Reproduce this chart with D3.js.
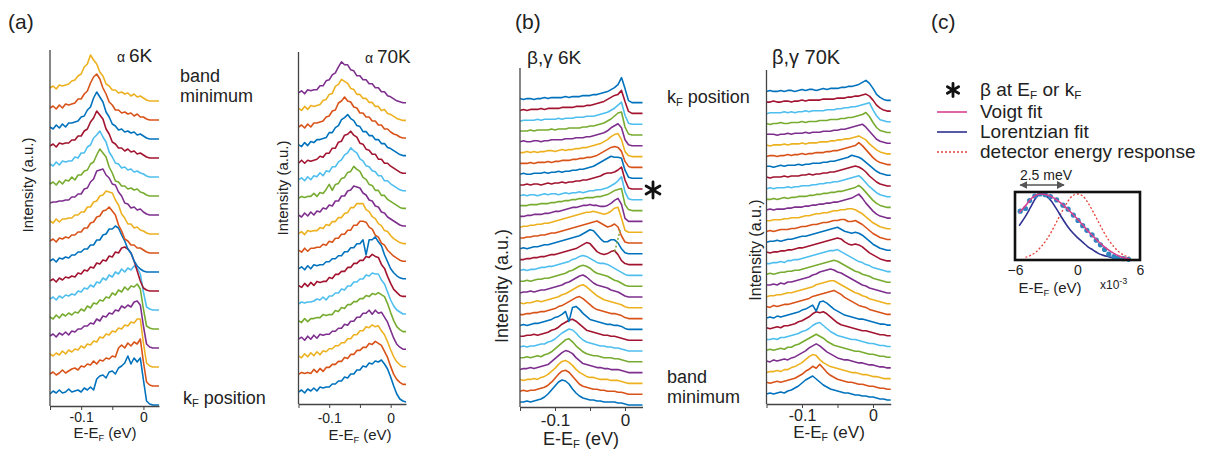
<!DOCTYPE html>
<html>
<head>
<meta charset="utf-8">
<script src="https://cdn.jsdelivr.net/npm/d3@7"></script>
<style>
  body { margin: 0; background: #fff; }
  svg { display: block; }
  text { font-family: "Liberation Sans", Arial, sans-serif; fill: #222; }
</style>
</head>
<body>
<svg id="fig" width="1206" height="453"></svg>
<script>
// energy grid (eV), shared by all EDC stacks
var energy = [-0.15,-0.145,-0.14,-0.135,-0.13,-0.125,-0.12,-0.115,-0.11,-0.105,-0.1,-0.095,-0.09,-0.085,-0.08,-0.075,-0.07,-0.065,-0.06,-0.055,-0.05,-0.045,-0.04,-0.035,-0.03,-0.025,-0.02,-0.015,-0.01,-0.005,0,0.005,0.01,0.015,0.02,0.025];

// MATLAB colour order, bottom curve first
var colors = ["#0072BD","#D95319","#EDB120","#7E2F8E","#77AC30","#4DBEEE","#A2142F"];

// (a) alpha band, 6K  -- bottom (kF) to top (band minimum)
var alpha6K = [
  [11,14,12,15,12,13,16,13,14,15,13,17,15,18,15,26,29,30,27,33,34,31,37,39,42,49,41,47,43,47,25,4,1,0,0,0],
  [12,14,11,13,16,13,15,17,18,16,20,19,22,21,25,22,26,25,28,27,30,29,38,41,38,43,40,44,42,47,24,4,1,0,0,0],
  [13,11,14,12,16,13,17,15,18,17,21,19,23,22,26,25,30,29,33,32,36,35,39,38,42,41,45,44,48,48,24,4,1,0,0,0],
  [12,14,11,15,13,16,13,17,16,19,19,22,22,25,24,29,27,32,31,35,34,38,37,42,40,43,41,46,47,43,22,4,1,0,0,0],
  [12,10,14,11,15,13,16,14,17,16,20,18,23,21,26,25,29,28,32,31,36,34,39,37,42,39,43,42,45,40,20,3,1,0,0,0],
  [11,13,10,14,12,15,14,16,15,19,18,22,21,25,23,28,27,32,30,35,33,38,36,41,38,42,40,44,42,36,18,3,1,0,0,0],
  [10,12,9,13,11,14,13,15,14,18,17,21,20,24,23,28,27,31,30,35,34,39,38,43,44,42,38,30,20,10,3,1,0,0,0,0],
  [11,13,10,14,13,15,14,17,17,20,20,23,23,27,27,32,32,37,38,43,43,46,44,37,31,23,19,11,6,3,1,0,0,0,0,0],
  [12,14,11,15,14,16,15,18,18,21,21,25,25,30,31,36,37,42,43,46,42,38,28,22,14,12,8,8,5,5,3,1,0,0,0,0],
  [13,11,15,12,15,15,16,16,19,19,22,22,27,27,32,33,38,39,43,42,41,34,29,20,16,10,10,6,7,4,3,1,0,0,0,0],
  [12,13,13,14,14,15,15,18,18,21,21,26,27,33,36,44,45,46,40,37,31,30,23,19,12,11,7,8,5,6,3,1,0,0,0,0],
  [12,14,11,15,12,16,15,19,16,21,21,25,26,32,34,41,47,43,39,29,23,15,14,10,10,7,8,6,7,4,3,1,0,0,0,0],
  [13,11,15,12,16,15,16,16,20,19,24,24,30,32,39,42,46,40,35,25,20,14,13,9,10,7,8,5,6,4,3,1,0,0,0,0],
  [12,14,11,15,14,15,15,18,18,22,22,27,29,36,40,47,43,39,29,24,16,14,10,10,7,9,6,7,4,5,3,1,0,0,0,0],
  [12,10,14,11,15,12,16,16,17,18,22,23,29,32,41,47,42,37,27,22,15,13,9,10,7,8,6,7,4,5,3,1,0,0,0,0],
  [12,14,11,15,12,16,15,16,17,21,21,26,29,37,43,46,41,32,26,18,15,10,10,7,8,6,7,4,6,3,3,1,0,0,0,0],
  [13,15,12,16,15,16,17,20,21,25,27,34,37,46,41,37,29,25,17,15,11,11,8,9,7,8,5,7,4,5,3,1,0,0,0,0]
];

// (a) alpha band, 70K
var alpha70K = [
  [10,12,9,13,11,14,11,15,14,15,15,18,18,21,21,25,24,28,28,32,32,36,35,39,38,41,40,42,38,33,25,16,8,3,1,0],
  [10,12,11,12,11,15,12,16,13,17,17,20,20,23,23,27,26,30,30,34,34,37,37,41,40,43,41,39,33,27,18,10,5,2,0,0],
  [11,9,13,10,14,11,15,12,16,15,18,18,21,21,24,24,28,28,32,32,36,36,40,39,42,40,41,36,32,25,17,10,5,2,0,0],
  [10,12,9,13,10,14,11,15,14,15,15,18,18,21,21,25,24,28,28,32,32,36,36,39,35,39,36,37,32,27,19,11,5,2,0,0],
  [11,9,13,10,13,13,14,14,17,16,17,17,21,20,24,23,27,27,30,30,33,33,36,35,38,37,39,37,35,28,19,11,5,2,0,0],
  [10,12,11,12,12,13,15,14,17,14,18,18,21,21,25,24,28,28,32,32,35,35,39,38,41,40,40,34,30,22,14,8,4,2,0,0],
  [11,9,13,10,14,11,15,14,15,15,19,18,22,22,25,25,29,29,33,33,36,36,40,39,42,40,39,32,28,20,13,7,4,1,0,0],
  [10,12,9,13,10,14,13,14,14,17,17,20,20,23,23,27,27,31,31,35,35,39,24,39,39,42,37,33,24,17,10,6,3,1,0,0],
  [11,9,13,10,13,13,14,14,17,16,20,19,23,23,27,27,31,31,36,36,40,40,39,34,32,26,24,18,16,11,8,5,3,1,0,0],
  [10,12,9,13,12,13,13,16,15,19,18,22,22,26,26,30,31,36,36,40,40,40,34,32,27,25,20,18,13,12,8,5,3,1,0,0],
  [11,9,13,10,14,11,15,14,18,17,21,20,25,25,30,30,35,36,40,39,38,33,31,26,25,20,19,14,13,9,7,5,3,1,0,0],
  [10,12,11,12,12,15,12,16,15,19,24,18,24,25,30,31,36,37,42,39,37,31,29,24,23,18,18,13,13,9,7,5,3,1,0,0],
  [11,13,10,14,11,15,14,18,15,20,19,24,24,29,31,36,38,43,40,38,32,30,25,24,20,19,15,15,10,10,7,5,3,1,0,0],
  [10,13,10,13,12,13,14,17,16,20,20,25,25,31,32,38,39,42,38,36,30,29,24,23,19,19,14,14,10,10,7,5,3,1,0,0],
  [11,9,13,10,14,13,16,16,17,18,23,23,28,30,36,38,41,37,35,30,29,24,24,20,20,16,16,12,12,8,7,5,3,1,0,0],
  [11,13,10,14,11,15,15,16,17,21,22,27,28,35,37,41,37,36,31,30,25,25,21,21,17,17,13,13,9,9,6,4,3,1,0,0],
  [12,10,14,11,15,14,15,16,20,21,26,27,34,36,41,39,37,32,31,26,26,22,22,18,18,14,14,10,11,7,6,4,2,1,0,0],
  [10,12,9,13,12,13,13,17,17,22,23,28,30,36,41,38,38,33,32,27,27,23,23,19,19,15,15,11,11,7,6,4,2,1,0,0]
];

// (b) beta,gamma bands, 6K -- bottom (band minimum) to top (kF)
var betaGamma6K = [
  [3,3,4,3,4,5,6,8,11,15,19,23,25,24,21,16,12,9,7,6,5,5,4,4,3,3,3,3,2,2,1,0,0,0,0,0],
  [3,4,3,4,4,5,6,7,9,12,16,20,23,24,22,18,14,10,8,7,6,5,5,4,4,3,3,3,2,2,1,0,0,0,0,0],
  [4,3,4,4,5,4,6,7,9,12,15,19,22,23,21,18,14,11,9,7,6,6,5,4,4,4,3,3,3,2,1,0,0,0,0,0],
  [3,4,4,5,4,5,6,7,8,11,14,17,20,22,21,19,15,12,9,8,7,6,5,5,4,4,3,3,3,2,1,0,0,0,0,0],
  [4,4,5,4,5,6,5,7,8,10,13,16,19,22,23,20,16,13,10,8,7,6,6,5,4,4,4,3,3,2,1,0,0,0,0,0],
  [4,5,4,5,5,6,7,7,9,10,12,15,18,20,22,21,18,14,11,9,8,7,6,5,5,4,4,3,3,2,1,0,0,0,0,0],
  [4,4,5,5,6,5,6,7,8,10,11,13,16,18,20,21,19,16,13,10,9,8,7,6,5,5,4,4,3,2,1,0,0,0,0,0],
  [4,5,4,5,6,6,7,8,9,10,12,13,15,18,8,22,23,20,16,13,10,9,8,7,6,5,5,4,4,3,1,0,0,0,0,0],
  [4,4,5,5,6,6,7,7,8,9,10,12,13,15,17,19,21,22,20,17,14,11,9,8,7,6,5,5,4,3,1,0,0,0,0,0],
  [5,4,5,5,6,7,6,7,8,9,10,11,13,14,16,18,20,22,23,21,18,15,12,10,8,7,6,5,4,3,1,0,0,0,0,0],
  [4,5,5,6,5,6,7,7,8,9,10,11,12,14,15,17,19,21,22,20,17,14,12,11,10,9,7,6,5,3,1,0,0,0,0,0],
  [5,5,6,5,6,7,7,8,8,9,10,11,12,13,15,16,18,20,21,20,18,15,13,12,11,10,8,6,5,3,1,0,0,0,0,0],
  [5,6,5,6,6,7,8,8,9,9,10,11,12,13,14,16,17,19,20,19,17,15,13,12,12,11,9,7,5,3,1,0,0,0,0,0],
  [5,5,6,6,7,7,8,8,9,10,10,11,12,13,14,15,16,18,20,22,21,17,13,11,10,11,13,14,10,4,1,0,0,0,0,0],
  [5,6,5,6,7,7,8,9,9,10,11,12,13,14,15,16,17,18,20,22,24,23,19,15,12,12,14,14,11,5,1,0,0,0,0,0],
  [5,5,6,6,7,7,8,8,9,10,10,11,12,13,14,15,16,17,18,19,20,21,22,20,18,16,17,19,16,7,1,0,0,0,0,0],
  [5,6,6,7,7,8,8,9,9,10,11,12,13,14,15,16,17,18,19,20,20,21,20,19,18,19,21,24,25,14,2,0,0,0,0,0],
  [5,5,6,6,7,7,7,8,8,9,10,10,11,12,13,14,14,15,16,16,17,16,16,15,15,16,18,21,23,17,3,0,0,0,0,0],
  [5,5,5,6,6,6,7,7,7,8,8,9,9,10,10,11,11,12,12,13,13,13,14,14,15,16,18,20,21,22,6,1,0,0,0,0],
  [4,5,4,5,5,4,5,6,5,6,6,5,6,7,6,7,7,8,7,8,9,9,10,10,11,12,14,16,19,23,8,1,0,0,0,0],
  [4,4,5,4,5,5,4,5,6,5,6,6,7,6,7,7,8,8,9,9,10,11,12,13,15,16,16,17,19,22,9,1,0,0,0,0],
  [4,5,4,4,5,5,5,6,5,6,6,7,6,7,7,8,8,9,9,10,11,12,14,16,18,20,22,21,21,20,8,1,0,0,0,0],
  [4,4,4,5,4,5,5,5,6,5,6,6,7,7,7,8,8,9,9,10,10,11,12,14,16,18,20,21,20,16,6,1,0,0,0,0],
  [4,4,5,4,5,4,5,5,6,6,5,6,7,6,7,7,8,8,9,9,10,11,12,13,15,17,20,22,23,17,5,1,0,0,0,0],
  [4,5,4,4,5,5,4,5,5,6,6,6,6,7,7,7,8,8,8,9,9,10,11,12,13,15,18,20,22,18,6,1,0,0,0,0],
  [4,4,4,5,4,5,5,5,5,6,5,6,6,6,7,7,7,7,8,8,9,9,10,11,12,14,16,19,22,23,8,1,0,0,0,0],
  [3,4,4,4,4,5,4,5,5,5,5,6,5,6,6,6,7,7,7,8,8,8,9,10,11,12,14,16,19,22,9,1,0,0,0,0],
  [3,4,3,4,4,4,5,4,5,5,5,5,6,6,6,6,7,7,7,8,8,9,10,11,12,14,16,18,19,23,12,2,0,0,0,0],
  [4,3,4,4,3,4,4,5,4,5,5,5,5,6,5,6,6,6,7,7,7,8,8,9,10,11,13,15,18,25,14,2,0,0,0,0]
];

// (b) beta,gamma bands, 70K
var betaGamma70K = [
  [7,8,7,8,9,8,10,11,13,15,18,21,23,25,22,19,16,14,12,11,10,9,8,8,7,6,6,5,5,4,4,3,2,2,1,1],
  [8,7,8,9,8,9,10,11,12,14,16,19,21,24,22,26,22,18,15,13,11,10,9,8,8,7,6,6,5,4,4,3,2,2,1,1],
  [7,8,8,9,8,10,10,12,13,15,17,20,23,25,24,20,17,15,13,12,11,10,9,8,7,7,6,5,5,4,3,3,2,1,1,1],
  [8,7,9,8,9,10,9,11,12,14,16,18,21,23,25,23,20,17,15,13,11,10,9,9,8,7,6,6,5,4,4,3,2,2,1,1],
  [8,9,8,9,10,9,11,11,13,14,16,18,20,22,24,22,20,17,15,13,12,11,10,9,8,7,7,6,5,4,4,3,2,2,1,1],
  [8,8,9,8,10,10,11,12,13,14,16,17,19,22,24,25,22,19,16,14,12,11,10,9,8,8,7,6,5,4,4,3,2,2,1,1],
  [9,8,9,10,9,11,11,12,13,15,16,18,20,23,25,24,25,23,20,17,14,12,11,10,9,8,7,6,6,5,4,3,2,2,1,1],
  [8,9,8,10,9,10,11,12,13,14,16,17,19,21,15,24,25,23,20,17,15,13,11,10,9,8,7,7,6,5,4,3,2,2,1,1],
  [9,8,10,9,10,11,11,12,13,14,15,16,17,19,20,21,22,23,24,25,23,21,18,16,14,12,10,9,8,6,5,4,3,2,1,1],
  [8,9,9,10,10,11,12,12,13,14,15,16,17,18,20,21,22,23,24,24,22,20,18,16,14,12,11,9,8,6,5,4,3,2,1,1],
  [9,9,10,9,11,10,12,12,13,14,15,16,17,19,20,22,23,24,25,24,22,21,19,17,15,13,11,9,8,6,5,4,3,2,1,1],
  [9,10,9,10,11,11,12,12,13,13,14,15,16,17,18,19,20,21,22,23,22,20,18,16,14,12,11,9,8,7,5,4,3,2,1,1],
  [9,9,10,10,11,10,12,12,13,13,14,15,16,17,18,19,20,21,22,22,23,21,19,17,15,13,11,10,8,7,5,4,3,2,1,1],
  [10,9,10,10,11,11,12,12,13,14,14,15,16,17,18,19,20,21,22,23,24,23,20,18,17,18,17,15,12,9,7,5,3,2,1,1],
  [9,10,10,11,10,11,12,12,13,14,15,15,16,17,18,19,20,21,22,23,24,22,20,19,18,19,18,16,13,10,7,5,3,2,1,1],
  [9,10,9,10,11,11,11,12,12,13,14,14,15,16,16,17,18,18,19,20,20,21,21,19,19,20,18,16,13,10,7,5,3,2,1,1],
  [9,9,10,10,10,11,11,12,12,12,13,14,14,15,16,16,17,17,18,19,19,20,20,21,21,20,18,16,13,10,7,5,3,2,1,1],
  [9,10,9,10,10,10,11,11,12,12,12,13,13,14,14,15,15,16,16,17,17,18,19,20,21,23,25,21,16,12,8,5,3,2,1,1],
  [9,9,10,9,10,11,10,11,11,12,12,12,13,13,14,14,15,15,16,16,17,17,18,19,20,21,23,20,16,12,8,5,3,2,1,1],
  [9,10,9,10,10,10,11,10,11,11,12,12,12,13,13,14,14,15,15,16,16,17,18,19,20,21,22,19,15,11,8,5,3,2,1,1],
  [10,9,10,10,10,11,10,11,11,11,12,12,13,12,13,13,14,14,15,15,16,17,18,19,20,21,20,18,15,11,8,5,3,2,1,1],
  [10,10,9,10,11,10,11,11,11,12,11,12,12,13,13,13,14,14,15,15,16,17,18,19,21,20,19,17,14,11,8,5,3,2,1,1],
  [9,10,10,9,10,10,11,10,11,11,12,11,12,12,13,13,13,14,14,15,15,16,17,18,19,20,23,20,16,12,8,5,3,2,1,1],
  [10,9,10,10,10,11,10,11,11,11,12,11,12,12,12,13,13,13,14,14,15,15,16,16,17,18,19,17,15,11,8,5,3,2,1,1],
  [10,10,10,9,10,10,11,10,11,11,11,12,11,12,12,12,13,13,13,14,14,15,15,16,17,18,19,20,17,13,9,5,3,2,1,1],
  [10,9,10,10,11,10,10,11,11,11,12,11,12,12,12,13,13,13,14,14,14,15,15,16,16,17,18,19,21,17,11,6,3,2,1,1],
  [9,10,10,10,10,11,10,11,10,11,11,12,11,12,12,12,12,13,13,13,14,14,15,15,16,16,17,18,19,20,13,7,3,2,1,1],
  [10,10,11,10,10,11,11,10,11,11,12,11,12,12,12,12,13,13,13,13,14,14,14,15,15,16,16,17,18,16,12,7,4,2,1,1],
  [10,11,10,10,11,10,11,11,10,11,12,11,12,12,11,12,13,12,13,13,13,14,14,15,15,16,17,19,21,18,13,7,4,2,1,1]
];

// dotted guide in (b) 6K: energies and stack rows of its two ends
var guideEnergy = [-0.007, -0.015];
var guideRow = [16.2, 14.1];

// (c) inset: energy in units of 1e-3 eV, normalised intensity
var dataE = [-5.5,-5.0,-4.6,-4.1,-3.6,-3.1,-2.6,-2.0,-1.4,-0.9,-0.4,0.05,0.5,0.9,1.4,1.8,2.2,2.6,3.0,3.5,3.9,4.4,4.9];
var dataV = [0.74,0.78,0.9,0.97,1.0,0.99,0.96,0.91,0.83,0.77,0.68,0.6,0.52,0.45,0.38,0.3,0.23,0.16,0.09,0.05,0.03,0.02,0.01];
var fitE = [-5.6,-5.0,-4.5,-4.0,-3.5,-3.0,-2.5,-2.0,-1.5,-1.0,-0.5,0,0.5,1.0,1.5,2.0,2.5,3.0,3.5,4.0,4.5,5.0];
var voigtV = [0.72,0.82,0.92,0.98,1.0,0.99,0.96,0.91,0.85,0.78,0.7,0.62,0.53,0.44,0.36,0.28,0.21,0.15,0.1,0.06,0.03,0.02];
var lorentzV = [0.52,0.66,0.8,0.94,1.0,0.97,0.89,0.77,0.64,0.52,0.42,0.34,0.27,0.2,0.15,0.1,0.07,0.05,0.03,0.02,0.01,0.01];
var detE = [-5,-4.5,-4,-3.5,-3,-2.5,-2,-1.5,-1,-0.5,0,0.5,1,1.5,2,2.5,3,3.5,4,4.5,5];
var detV = [0.04,0.07,0.12,0.2,0.3,0.43,0.58,0.73,0.87,0.97,1.0,0.97,0.87,0.73,0.58,0.43,0.3,0.2,0.12,0.07,0.04];

var svg = d3.select("#fig");
var FONT = '"Liberation Sans", Arial, sans-serif';

function subText(g, x, y, parts, size, anchor) {
  // parts: [text, isSub]
  var t = g.append("text").attr("x", x).attr("y", y)
    .attr("font-size", size).attr("text-anchor", anchor || "start");
  var down = false;
  parts.forEach(function(p) {
    var s = t.append("tspan").text(p[0]);
    if (p[1] && !down) { s.attr("font-size", size * 0.62).attr("dy", size * 0.18); down = true; }
    else if (!p[1] && down) { s.attr("dy", -size * 0.18); down = false; }
  });
  return t;
}

var panels = [
  {curves: alpha6K, xr: [50, 159], axisY: 406, top: 50, base: 405, step: 19, fs: 14,
   tickY: 422, xlab: [105, 438], ylab: [28, 185, 15]},
  {curves: alpha70K, xr: [298.5, 406], axisY: 404, top: 52, base: 402, step: 17.6, fs: 14,
   tickY: 423, xlab: [360, 440], ylab: [283, 188, 15]},
  {curves: betaGamma6K, xr: [520, 642.5], axisY: 407, top: 68, base: 405, step: 10.8, fs: 17,
   tickY: 426, xlab: [581, 445], ylab: [502, 286, 18]},
  {curves: betaGamma70K, xr: [766.5, 890.75], axisY: 404, top: 70, base: 401, step: 10.7, fs: 16,
   tickY: 421, xlab: [829, 438], ylab: [755, 250, 16]}
];

panels.forEach(function(p, pi) {
  var g = svg.append("g");
  var x = d3.scaleLinear().domain([-0.15, 0.025]).range(p.xr);
  var y = d3.scaleLinear().domain([0, 400]).range([p.base, p.base - 400]);
  var line = d3.line()
    .defined(function(v, j) { return energy[j] !== undefined; })
    .x(function(v, j) { return x(energy[j]); });

  p.curves.forEach(function(c, i) {
    line.y(function(v) { return y(v + i * p.step); });
    g.append("path").attr("d", line(c))
      .attr("fill", "none").attr("stroke", colors[i % 7])
      .attr("stroke-width", 1.6).attr("stroke-linejoin", "round");
  });

  if (pi === 2) {
    g.append("line")
      .attr("x1", x(guideEnergy[0])).attr("y1", y(guideRow[0] * p.step))
      .attr("x2", x(guideEnergy[1])).attr("y2", y(guideRow[1] * p.step))
      .attr("stroke", "#77AC30").attr("stroke-width", 1.5).attr("stroke-dasharray", "2,2");
  }

  // axes
  g.append("line").attr("x1", p.xr[0]).attr("x2", p.xr[0])
    .attr("y1", p.top).attr("y2", p.axisY).attr("stroke", "#444").attr("stroke-width", 1.3);
  var ax = g.append("g").attr("transform", "translate(0," + p.axisY + ")")
    .call(d3.axisBottom(x).tickValues([-0.15, -0.1, -0.05, 0]).tickSize(4).tickSizeOuter(0)
      .tickFormat(function(d) { return d === -0.1 ? "-0.1" : d === 0 ? "0" : ""; }));
  ax.select(".domain").attr("stroke", "#444").attr("stroke-width", 1.3);
  ax.selectAll(".tick line").attr("stroke", "#444");
  ax.selectAll(".tick text").attr("font-size", p.fs).attr("font-family", FONT)
    .attr("fill", "#333").attr("y", p.tickY - p.axisY).attr("dy", 0);

  subText(g, p.xlab[0], p.xlab[1], [["E-E"], ["F", true], [" (eV)"]], p.fs + 1, "middle");
  g.append("text").attr("transform", "translate(" + p.ylab[0] + "," + p.ylab[1] + ") rotate(-90)")
    .attr("text-anchor", "middle").attr("dy", "0.35em").attr("font-size", p.ylab[2])
    .text("Intensity (a.u.)");
});

// panel letters and titles
[["(a)", 8], ["(b)", 515], ["(c)", 931]].forEach(function(d) {
  svg.append("text").attr("x", d[1]).attr("y", 29).attr("font-size", 21).text(d[0]);
});

var t1 = svg.append("text").attr("x", 117).attr("y", 62).attr("font-size", 19);
t1.append("tspan").attr("font-size", 14).text("\u03b1 ");
t1.append("tspan").text("6K");
var t2 = svg.append("text").attr("x", 365).attr("y", 63).attr("font-size", 19);
t2.append("tspan").attr("font-size", 14).text("\u03b1 ");
t2.append("tspan").text("70K");
svg.append("text").attr("x", 527).attr("y", 64).attr("font-size", 19).text("\u03b2,\u03b3 6K");
svg.append("text").attr("x", 772).attr("y", 64).attr("font-size", 20).text("\u03b2,\u03b3 70K");

// side annotations
svg.append("text").attr("x", 180).attr("y", 82).attr("font-size", 18).text("band");
svg.append("text").attr("x", 180).attr("y", 102).attr("font-size", 18).text("minimum");
subText(svg, 183, 404, [["k"], ["F", true], [" position"]], 18);
subText(svg, 667, 103, [["k"], ["F", true], [" position"]], 18);
svg.append("text").attr("x", 667).attr("y", 383).attr("font-size", 18).text("band");
svg.append("text").attr("x", 667).attr("y", 403).attr("font-size", 18).text("minimum");

function asterisk(cx, cy, r) {
  var g = svg.append("g").attr("transform", "translate(" + cx + "," + cy + ")");
  [90, 30, -30].forEach(function(a) {
    var rad = a * Math.PI / 180;
    g.append("line").attr("x1", -r * Math.cos(rad)).attr("y1", -r * Math.sin(rad))
      .attr("x2", r * Math.cos(rad)).attr("y2", r * Math.sin(rad))
      .attr("stroke", "#111").attr("stroke-width", 2.8).attr("stroke-linecap", "round");
  });
}
asterisk(653, 190, 8);

// (c) legend
asterisk(953, 90, 6.5);
subText(svg, 980, 96, [["\u03b2 at E"], ["F", true], [" or k"], ["F", true]], 19);
var legend = [["Voigt fit", "#D6408F", null, 118], ["Lorentzian fit", "#2E3192", null, 138],
              ["detector energy response", "#E8403A", "2,2", 158]];
legend.forEach(function(d) {
  svg.append("line").attr("x1", 937).attr("x2", 967).attr("y1", d[3] - 6).attr("y2", d[3] - 6)
    .attr("stroke", d[1]).attr("stroke-width", 1.6).attr("stroke-dasharray", d[2]);
  svg.append("text").attr("x", 980).attr("y", d[3]).attr("font-size", 19).text(d[0]);
});

// (c) inset
var ix = d3.scaleLinear().domain([-6, 6]).range([1015, 1140]);
var iy = d3.scaleLinear().domain([0, 1]).range([260, 194]);
var ig = svg.append("g");
var lineI = d3.line().x(function(d) { return ix(d[0]); }).y(function(d) { return iy(d[1]); }).curve(d3.curveMonotoneX);

ig.append("path").attr("d", lineI(detE.map(function(e, k) { return [e, detV[k]]; })))
  .attr("fill", "none").attr("stroke", "#E8403A").attr("stroke-width", 1.3).attr("stroke-dasharray", "2,2");
ig.append("path").attr("d", lineI(fitE.map(function(e, k) { return [e, lorentzV[k]]; })))
  .attr("fill", "none").attr("stroke", "#2E3192").attr("stroke-width", 1.6);
ig.selectAll("circle").data(dataE.map(function(e, k) { return [e, dataV[k]]; })).enter()
  .append("circle").attr("cx", function(d) { return ix(d[0]); }).attr("cy", function(d) { return iy(d[1]); })
  .attr("r", 2.6).attr("fill", "#2E86C1");
ig.append("path").attr("d", lineI(fitE.map(function(e, k) { return [e, voigtV[k]]; })))
  .attr("fill", "none").attr("stroke", "#D6408F").attr("stroke-width", 1.6);

ig.append("rect").attr("x", ix(-6)).attr("y", 192).attr("width", ix(6) - ix(-6)).attr("height", 68)
  .attr("fill", "none").attr("stroke", "#111").attr("stroke-width", 2.6);

var iax = ig.append("g").attr("transform", "translate(0,261)")
  .call(d3.axisBottom(ix).tickValues([-6, 0, 6]).tickSize(0).tickFormat(d3.format("d")));
iax.select(".domain").remove();
iax.selectAll(".tick text").attr("font-size", 14).attr("font-family", FONT).attr("fill", "#333").attr("y", 4);
subText(ig, 1050, 293, [["E-E"], ["F", true], [" (eV)"]], 15, "middle");
var ex = ig.append("text").attr("x", 1100).attr("y", 289).attr("font-size", 12).text("x10");
ex.append("tspan").attr("font-size", 9).attr("dy", -5).text("-3");

// 2.5 meV width marker
var defs = svg.append("defs");
defs.append("marker").attr("id", "ah").attr("viewBox", "0 0 10 10").attr("refX", 9).attr("refY", 5)
  .attr("markerWidth", 5).attr("markerHeight", 5).attr("orient", "auto-start-reverse")
  .append("path").attr("d", "M0,0L10,5L0,10z").attr("fill", "#555");
ig.append("line").attr("x1", ix(-5.5)).attr("x2", ix(-1.3)).attr("y1", 185).attr("y2", 185)
  .attr("stroke", "#555").attr("stroke-width", 1.6)
  .attr("marker-start", "url(#ah)").attr("marker-end", "url(#ah)");
ig.append("text").attr("x", 1046).attr("y", 180).attr("text-anchor", "middle").attr("font-size", 14)
  .attr("fill", "#444").text("2.5 meV");
</script>
</body>
</html>
